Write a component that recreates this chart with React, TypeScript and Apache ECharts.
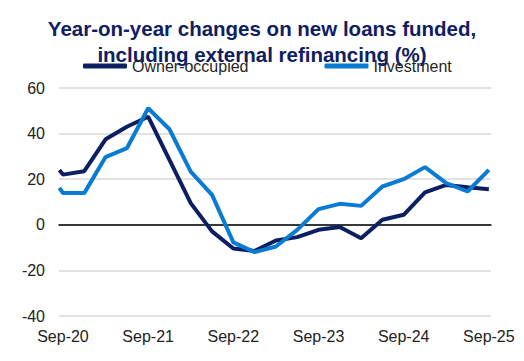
import React, { useEffect, useRef } from "react";
import * as echarts from "echarts";

// Months since Sep-20 (first point sits just before Sep-20)
const months = [-0.5, 0, 3, 6, 9, 12, 15, 18, 21, 24, 27, 30, 33, 36, 39, 42, 45, 48, 51, 54, 57, 60];
const ownerOccupied = [24, 22, 23.5, 37.5, 43, 47.4, 28.5, 9.5, -2.9, -10.4, -11.5, -6.9, -5.4, -2.2, -1.0, -5.9, 2.2, 4.4, 14.2, 17.5, 16.5, 15.6];
const investment = [16.2, 13.9, 13.9, 29.7, 33.6, 51.1, 41.9, 23.3, 13.1, -7.7, -12.0, -9.5, -2.2, 6.9, 9.2, 8.3, 16.8, 20, 25.3, 18.3, 14.6, 24.1];
const tickMonths = [0, 12, 24, 36, 48, 60];
const tickLabels = ["Sep-20", "Sep-21", "Sep-22", "Sep-23", "Sep-24", "Sep-25"];
const seriesNames = ["Owner-occupied", "Investment"];
const titleText = "Year-on-year changes on new loans funded,\nincluding external refinancing (%)";

const DARK = "#0c1f63";
const LIGHT = "#0a7bd2";

export default function App() {
  const ref = useRef<HTMLDivElement>(null);
  useEffect(() => {
    document.body.style.margin = "0";
    if (!ref.current) return;
    const chart = echarts.init(ref.current, null, { renderer: "svg" });
    const font = "Liberation Sans, Arial, sans-serif";
    chart.setOption({
      animation: false,
      title: {
        text: titleText,
        left: "center",
        top: 10,
        textStyle: {
          fontFamily: font,
          fontSize: 20.5,
          fontWeight: "bold",
          color: "#0e2062",
          lineHeight: 26,
        },
      },
      legend: {
        left: 78,
        top: 53,
        itemWidth: 44,
        itemHeight: 5,
        itemGap: 76,
        icon: "roundRect",
        textStyle: { fontFamily: font, fontSize: 16, color: "#262626" },
        data: seriesNames,
      },
      grid: { left: 59, right: 33, top: 88, bottom: 45 },
      xAxis: [
        {
          type: "value",
          min: -0.56,
          max: 60.3,
          axisLine: { show: false, onZero: false },
          axisTick: { show: false },
          splitLine: { show: false },
          axisLabel: {
            customValues: tickMonths,
            formatter: (v: number) => tickLabels[tickMonths.indexOf(Math.round(v))] ?? "",
            fontFamily: font,
            fontSize: 16,
            color: "#222",
            margin: 12,
          },
        },
        {
          type: "value",
          min: -0.56,
          max: 60.3,
          position: "bottom",
          axisLine: { show: true, onZero: true, lineStyle: { color: "#000", width: 1.5 } },
          axisTick: { show: false },
          axisLabel: { show: false },
          splitLine: { show: false },
        },
      ],
      yAxis: {
        type: "value",
        min: -40,
        max: 60,
        interval: 20,
        axisLine: { show: false },
        axisTick: { show: false },
        splitLine: { lineStyle: { color: "#d9d9d9", width: 1.5 } },
        axisLabel: { fontFamily: font, fontSize: 16, color: "#222", margin: 14 },
      },
      series: [
        {
          name: seriesNames[0],
          type: "line",
          symbol: "none",
          data: months.map((m, i) => [m, ownerOccupied[i]]),
          lineStyle: { color: DARK, width: 4 },
          itemStyle: { color: DARK },
          z: 3,
        },
        {
          name: seriesNames[1],
          type: "line",
          symbol: "none",
          data: months.map((m, i) => [m, investment[i]]),
          lineStyle: { color: LIGHT, width: 4 },
          itemStyle: { color: LIGHT },
          z: 4,
        },
      ],
    });
    return () => chart.dispose();
  }, []);
  return <div ref={ref} style={{ width: 524, height: 361 }} />;
}
